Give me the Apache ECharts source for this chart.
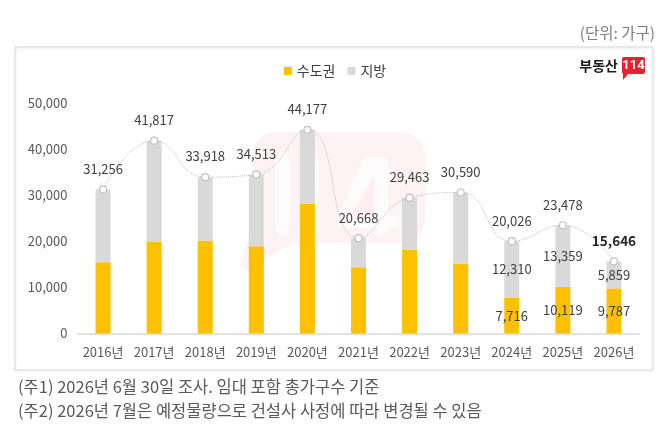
<!DOCTYPE html>
<html><head><meta charset="utf-8">
<script src="https://cdn.jsdelivr.net/npm/echarts@6/dist/echarts.min.js"></script>
<style>html,body{margin:0;padding:0;background:#fff}#c{width:670px;height:427px}</style>
</head><body><div id="c"></div>
<script>
const years = ['2016년','2017년','2018년','2019년','2020년','2021년','2022년','2023년','2024년','2025년','2026년'];
const capital = [15460, 19930, 20150, 18920, 28080, 14390, 18200, 15120, 7716, 10119, 9787];
const local = [15796, 21887, 13768, 15593, 16097, 6278, 11263, 15470, 12310, 13359, 5859];
const totals = [31256, 41817, 33918, 34513, 44177, 20668, 29463, 30590, 20026, 23478, 15646];
const segLabelYears = ['2024년','2025년','2026년'];
const boldTotalYears = ['2026년'];
const seriesNames = ['수도권','지방'];
const unitText = '(단위: 가구)';
const notes = ['(주1) 2026년 6월 30일 조사. 임대 포함 총가구수 기준','(주2) 2026년 7월은 예정물량으로 건설사 사정에 따라 변경될 수 있음'];

const FONT = "'Noto Sans CJK KR', 'Noto Sans', sans-serif";
const chart = echarts.init(document.getElementById('c'), null, {renderer:'canvas'});

function segData(arr){
  return arr.map((v,i)=>({value:v, label:{show: segLabelYears.includes(years[i])}}));
}
const totalData = totals.map((v,i)=>{
  const bold = boldTotalYears.includes(years[i]);
  return {value:v, label:{fontWeight: bold?'bold':'normal', color: bold?'#262626':'#404040', fontSize: bold?13.5:13}};
});

const segLabel = {position:'inside', color:'#404040', fontSize:13, fontFamily:FONT,
  formatter: p => p.value.toLocaleString('en-US')};

const PINK = 'rgba(228,40,50,0.055)';
const WHITE = 'rgba(255,255,255,0.6)';

chart.setOption({
  animation:false,
  backgroundColor:'#fff',
  textStyle:{fontFamily:FONT},
  grid:{left:77.5, right:30.5, top:103, bottom:93.5},
  legend:{
    data:seriesNames, top:59, left:'center', icon:'rect', itemWidth:8, itemHeight:8, itemGap:12,
    textStyle:{fontSize:14, color:'#404040', fontFamily:FONT}
  },
  xAxis:{
    type:'category', data:years,
    axisLine:{lineStyle:{color:'#D9D9D9', width:1.5}}, axisTick:{show:false},
    axisLabel:{color:'#595959', fontSize:13, margin:12, interval:0, fontFamily:FONT}
  },
  yAxis:{
    type:'value', min:0, max:50000, interval:10000,
    splitLine:{show:false}, axisLine:{show:false}, axisTick:{show:false},
    axisLabel:{color:'#595959', fontSize:13, margin:10, fontFamily:FONT,
      formatter: v => v.toLocaleString('en-US')}
  },
  series:[
    {name:seriesNames[0], type:'bar', stack:'t', barWidth:15, itemStyle:{color:'#FFC000'},
     data:segData(capital), label:segLabel, z:2},
    {name:seriesNames[1], type:'bar', stack:'t', barWidth:15, itemStyle:{color:'#D9D9D9'},
     data:segData(local), label:segLabel, z:2},
    {name:'합계', type:'line', data:totalData, smooth:0.5, symbol:'circle', symbolSize:7,
     lineStyle:{color:'#C0C0C0', width:1, type:'dotted'},
     itemStyle:{color:'#fff', borderColor:'#C0C0C0', borderWidth:1.2},
     label:{show:true, position:'top', distance:10, fontSize:13, color:'#404040', fontFamily:FONT,
       formatter: p => p.value.toLocaleString('en-US')},
     z:3}
  ],
  graphic:[
    {type:'rect', shape:{x:15, y:47, width:638, height:323}, style:{fill:'none', stroke:'#D9D9D9', lineWidth:1,
      shadowBlur:3, shadowColor:'rgba(0,0,0,0.12)', shadowOffsetY:1}, z:-10, silent:true},
    {type:'text', x:655, y:33, style:{text:unitText, fontSize:15.5, fill:'#7F7F7F', fontFamily:FONT, align:'right', verticalAlign:'middle'}},
    {type:'text', x:618, y:66, style:{text:'부동산', fontSize:14, fontWeight:'bold', fill:'#1a1a1a', fontFamily:FONT, align:'right', verticalAlign:'middle'}},
    {type:'rect', shape:{x:622, y:57, width:23, height:17, r:2}, style:{fill:'#E8212F'}},
    {type:'polygon', shape:{points:[[623,73],[623,80],[629,73]]}, style:{fill:'#E8212F'}},
    {type:'text', x:633.5, y:66, style:{text:'114', fontSize:13, fontWeight:'bold', fill:'#fff', fontFamily:'Roboto', align:'center', verticalAlign:'middle'}},
    {type:'text', x:18, y:387, style:{text:notes[0], fontSize:16.5, fill:'#595959', fontFamily:FONT, verticalAlign:'middle'}},
    {type:'text', x:18, y:411, style:{text:notes[1], fontSize:16.5, fill:'#595959', fontFamily:FONT, verticalAlign:'middle'}},
    // watermark
    {type:'group', z:100, silent:true, children:[
      {type:'rect', shape:{x:252, y:132, width:173, height:111, r:24}, style:{fill:PINK}},
      {type:'polygon', shape:{points:[[252,222],[241,266],[246,272],[292,243],[252,243]]}, style:{fill:PINK}},
      {type:'rect', shape:{x:275, y:153, width:15, height:82, r:7.5}, style:{fill:WHITE}},
      {type:'rect', shape:{x:305, y:153, width:14, height:82, r:7}, style:{fill:WHITE}},
      {type:'polygon', shape:{points:[[335,222],[362,160],[366,157],[384,157],[388,161],[388,215],[398,215],[400,221],[398,228],[388,228],[388,233],[380,237],[374,233],[374,228],[341,228]]}, style:{fill:WHITE}},
      {type:'polygon', shape:{points:[[352,215],[374,176],[374,215]]}, style:{fill:PINK}}
    ]}
  ]
});
</script></body></html>
